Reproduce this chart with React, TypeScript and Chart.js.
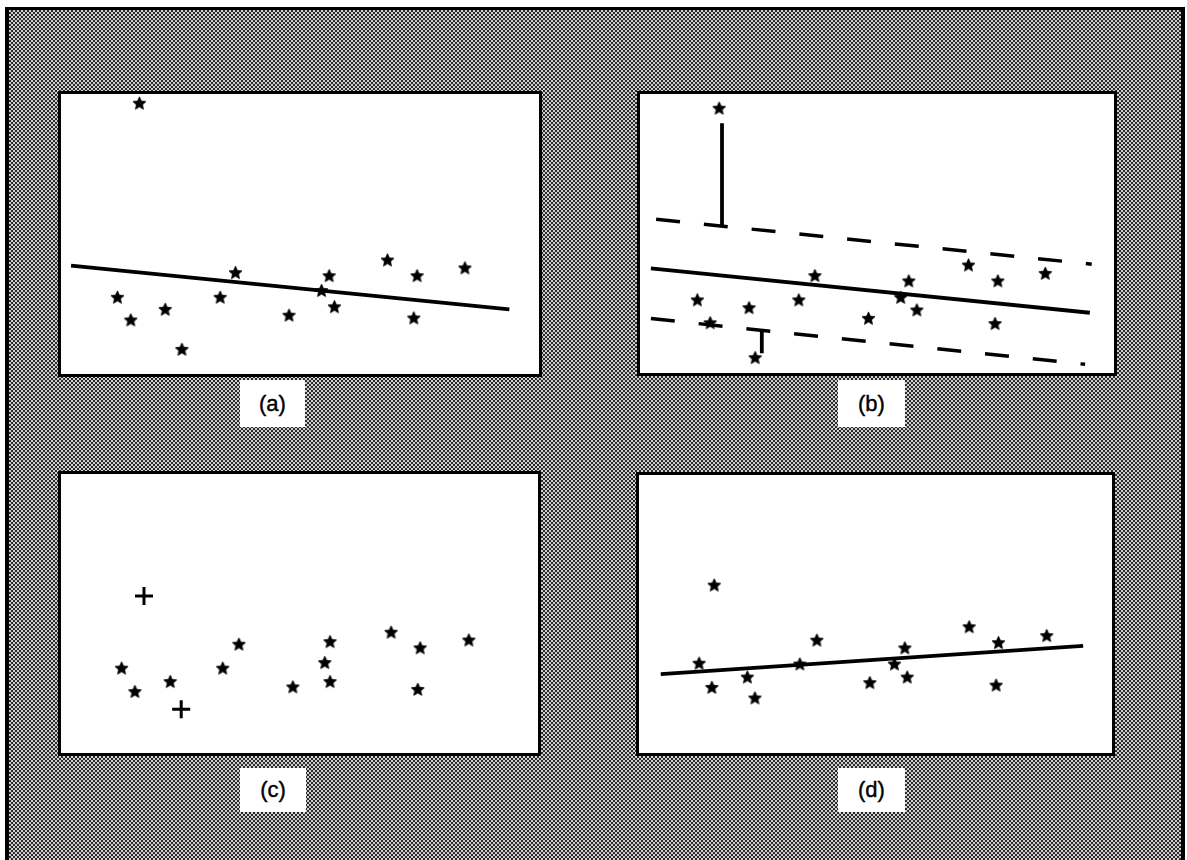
import React, { useEffect, useRef } from "react";
import { Chart, registerables } from "chart.js";
Chart.register(...registerables);

// ---------- data (x and y on a 0–100 scale inside each panel) ----------
const labels = ["(a)", "(b)", "(c)", "(d)"];

// (a) raw data with least-squares fit
const aStarX = [16.4, 11.8, 14.6, 21.8, 25.3, 33.3, 36.5, 47.7, 54.5, 56.1, 57.2, 68.3, 74.5, 73.8, 84.5];
const aStarY = [96.7, 27.4, 19.3, 23.1, 8.8, 27.4, 36.2, 21.0, 29.8, 35.1, 24.0, 40.7, 35.1, 20.0, 37.9];
const aFitX = [2.1, 93.8];
const aFitY = [38.7, 23.1];

// (b) fit with tolerance band and residuals of the outliers
const bStarX = [16.7, 12.1, 14.8, 23.0, 24.3, 33.5, 36.9, 48.2, 55.0, 56.7, 58.4, 69.3, 75.5, 74.9, 85.5];
const bStarY = [94.9, 26.2, 18.0, 23.4, 5.5, 26.2, 34.9, 19.6, 27.1, 33.0, 22.6, 38.7, 33.0, 17.7, 35.7];
const bFitX = [2.3, 94.9];
const bFitY = [37.5, 21.6];
const bUpperX = [3.4, 95.3];
const bUpperY = [55.1, 39.0];
const bLowerX = [2.3, 93.9];
const bLowerY = [19.5, 3.1];
const bResid1X = [17.3, 17.3];
const bResid1Y = [89.5, 52.8];
const bResid2X = [25.7, 25.7];
const bResid2Y = [15.7, 7.1];

// (c) outliers marked with crosses
const cStarX = [12.7, 15.5, 22.9, 33.9, 37.3, 48.6, 55.3, 56.4, 56.4, 69.2, 75.3, 74.8, 85.5];
const cStarY = [30.4, 22.0, 25.6, 30.4, 39.0, 23.7, 32.4, 39.9, 25.6, 43.3, 37.7, 22.8, 40.5];
const cCrossX = [17.4, 25.2];
const cCrossY = [56.3, 15.7];

// (d) refit
const dStarX = [15.9, 12.7, 15.4, 22.9, 24.5, 34.0, 37.6, 48.8, 54.0, 56.2, 56.7, 69.8, 76.0, 75.5, 86.2];
const dStarY = [60.4, 32.3, 23.6, 27.3, 19.8, 32.0, 40.6, 25.3, 32.0, 37.8, 27.3, 45.4, 39.7, 24.4, 42.2];
const dFitX = [4.6, 93.9];
const dFitY = [28.4, 38.5];

// ---------- layout ----------
type Layer = { kind: "star" | "cross" | "line" | "dash"; xs: number[]; ys: number[] };

const panels: { box: [number, number, number, number]; label: [number, number, number, number]; layers: Layer[] }[] = [
  {
    box: [58, 91, 484, 286],
    label: [240, 380, 65, 47],
    layers: [
      { kind: "line", xs: aFitX, ys: aFitY },
      { kind: "star", xs: aStarX, ys: aStarY },
    ],
  },
  {
    box: [637, 91, 480, 285],
    label: [838, 380, 67, 47],
    layers: [
      { kind: "line", xs: bFitX, ys: bFitY },
      { kind: "dash", xs: bUpperX, ys: bUpperY },
      { kind: "dash", xs: bLowerX, ys: bLowerY },
      { kind: "line", xs: bResid1X, ys: bResid1Y },
      { kind: "line", xs: bResid2X, ys: bResid2Y },
      { kind: "star", xs: bStarX, ys: bStarY },
    ],
  },
  {
    box: [58, 471, 483, 285],
    label: [240, 768, 66, 44],
    layers: [
      { kind: "star", xs: cStarX, ys: cStarY },
      { kind: "cross", xs: cCrossX, ys: cCrossY },
    ],
  },
  {
    box: [636, 472, 479, 284],
    label: [838, 768, 67, 44],
    layers: [
      { kind: "line", xs: dFitX, ys: dFitY },
      { kind: "star", xs: dStarX, ys: dStarY },
    ],
  },
];

function makeStar(): HTMLCanvasElement {
  const c = document.createElement("canvas");
  c.width = 17;
  c.height = 17;
  const g = c.getContext("2d")!;
  g.fillStyle = "#000";
  g.strokeStyle = "#000";
  g.lineWidth = 0.8;
  g.lineJoin = "round";
  g.beginPath();
  const R = 6.8, r = 3.2;
  for (let i = 0; i < 10; i++) {
    const a = -Math.PI / 2 + (i * Math.PI) / 5;
    const rad = i % 2 === 0 ? R : r;
    const x = 8.5 + rad * Math.cos(a);
    const y = 8.9 + rad * Math.sin(a);
    if (i === 0) g.moveTo(x, y);
    else g.lineTo(x, y);
  }
  g.closePath();
  g.fill();
  g.stroke();
  return c;
}

function Panel({ w, h, layers }: { w: number; h: number; layers: Layer[] }) {
  const ref = useRef<HTMLCanvasElement>(null);
  useEffect(() => {
    if (!ref.current) return;
    const star = makeStar();
    const datasets = layers.map((l) => {
      const data = l.xs.map((x, i) => ({ x, y: l.ys[i] }));
      if (l.kind === "star")
        return { data, pointStyle: star as any, pointRadius: 8, showLine: false, borderColor: "#000", backgroundColor: "#000" };
      if (l.kind === "cross")
        return { data, pointStyle: "cross" as const, pointRadius: 9, borderWidth: 3, showLine: false, borderColor: "#000", backgroundColor: "#000" };
      return {
        data,
        showLine: true,
        pointRadius: 0,
        borderColor: "#000",
        borderWidth: l.kind === "dash" ? 3.5 : 3.8,
        borderDash: l.kind === "dash" ? [24, 24] : [],
        borderCapStyle: "butt" as const,
      };
    });
    const chart = new Chart(ref.current, {
      type: "scatter",
      data: { datasets: datasets as any },
      options: {
        animation: false,
        responsive: false,
        layout: { padding: 0, autoPadding: false },
        plugins: { legend: { display: false }, tooltip: { enabled: false } },
        events: [],
        scales: {
          x: { type: "linear", min: 0, max: 100, display: false },
          y: { type: "linear", min: 0, max: 100, display: false },
        },
      },
    });
    return () => chart.destroy();
  }, [layers, w, h]);
  return <canvas ref={ref} width={w} height={h} style={{ display: "block", width: w, height: h }} />;
}

export default function App() {
  return (
    <div style={{ position: "fixed", left: 0, top: 0, width: 1187, height: 860, background: "#fff", overflow: "hidden" }}>
      <div
        style={{
          position: "absolute",
          left: 5,
          top: 7,
          width: 1180,
          height: 870,
          boxSizing: "border-box",
          borderLeft: "4px solid #000",
          borderTop: "3px solid #000",
          borderRight: "4px solid #000",
          backgroundColor: "#cfcfcf",
          backgroundImage: "repeating-conic-gradient(#2a2a2a 0% 25%, transparent 0% 50%)",
          backgroundSize: "4px 4px",
        }}
      />
      {panels.map((p, i) => (
        <React.Fragment key={i}>
          <div
            style={{
              position: "absolute",
              left: p.box[0],
              top: p.box[1],
              width: p.box[2],
              height: p.box[3],
              boxSizing: "border-box",
              border: "3px solid #000",
              background: "#fff",
            }}
          >
            <Panel w={p.box[2] - 6} h={p.box[3] - 6} layers={p.layers} />
          </div>
          <div
            style={{
              position: "absolute",
              left: p.label[0],
              top: p.label[1],
              width: p.label[2],
              height: p.label[3],
              lineHeight: p.label[3] + "px",
              background: "#fff",
              textAlign: "center",
              fontFamily: '"Liberation Sans", Arial, sans-serif',
              fontSize: 22,
              color: "#000",
              WebkitTextStroke: "0.4px #000",
            }}
          >
            {labels[i]}
          </div>
        </React.Fragment>
      ))}
    </div>
  );
}
